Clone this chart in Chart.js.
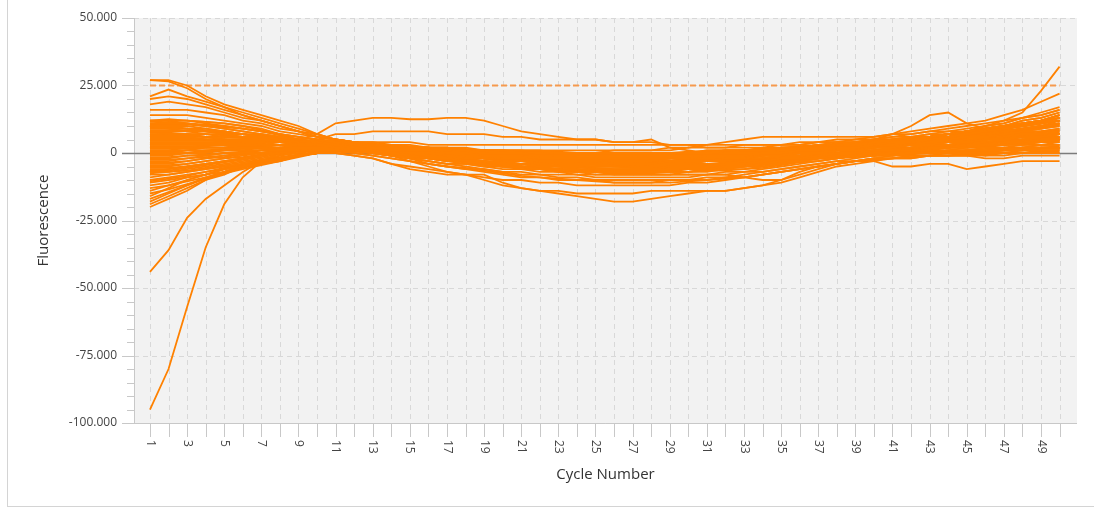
<!DOCTYPE html>
<html lang="en">
<head>
    <meta charset="UTF-8">
    <title>Fluorescence per cycle</title>
    <script src="https://cdn.jsdelivr.net/npm/chart.js"></script>
    <style>
        html, body {
            margin: 0;
            width: 1094px;
            height: 508px;
            overflow: hidden;
            background: #fff;
            font-family: "Open Sans", sans-serif;
        }
        #frame {
            position: absolute;
            left: 7px;
            top: -2px;
            width: 1100px;
            height: 509px;
            border: 1px solid #d4d4d4;
            box-sizing: border-box;
        }
        #wrap {
            position: absolute;
            left: 0;
            top: 0;
            width: 1094px;
            height: 508px;
        }
    </style>
</head>
<body>
    <div id="frame"></div>
    <div id="wrap"><canvas id="chart"></canvas></div>

    <script>
        // cycle numbers and fluorescence per well (values in thousands)
        const cycles = [1,2,3,4,5,6,7,8,9,10,11,12,13,14,15,16,17,18,19,20,21,22,23,24,25,26,27,28,29,30,31,32,33,34,35,36,37,38,39,40,41,42,43,44,45,46,47,48,49,50];
        const thresholdK = 25;
        const yTickValues = [-100000, -75000, -50000, -25000, 0, 25000, 50000];
        const xTickLabels = ['1','3','5','7','9','11','13','15','17','19','21','23','25','27','29','31','33','35','37','39','41','43','45','47','49'];

        const well01 = [27,27,25,21,18,16,14,12,10,7, 5,3,2,2,1,1,0,0,-1,-1, -1,-2,-2,-2,-2,-2,-2,-2,-2,-2, -1,-1,-1,0,0,1,1,2,2,3, 4,4,5,6,7,8,9,10,11,12];
        const well02 = [27,26.5,24,20,17,14,12,10,8,6, 5,4,3,2,2,1,1,0,0,-1, -1,-1,-2,-2,-2,-2,-2,-1,-1,-1, -1,0,0,0,1,1,2,2,3,3, 4,4,5,5,6,6,7,8,8,9];
        const well03 = [21,23.5,21,19,17,15,13,11,9,7, 5,4,3,2,1,0,0,-1,-1,-2, -2,-3,-3,-3,-3,-4,-4,-4,-3,-3, -3,-2,-2,-1,-1,0,0,1,1,2, 2,3,3,4,4,5,5,6,6,7];
        const well04 = [20,21,20,18,16,14,12,10,8,7, 5,4,3,2,2,1,1,1,0,0, 0,-1,-1,-1,-1,-1,-1,-1,-1,0, 0,0,1,1,1,2,2,3,3,4, 4,5,5,6,7,8,9,10,11,12];
        const well05 = [18,19,18,17,15,13,12,10,8,6, 5,4,3,3,2,2,1,1,1,0, 0,0,-1,-1,-1,-1,-1,-1,0,0, 0,1,1,1,2,2,2,3,3,4, 5,5,6,7,8,9,10,11,12,14];
        const well06 = [16,16,16,15,14,12,11,9,8,6, 5,4,3,3,2,2,1,1,0,0, 0,-1,-1,-1,-1,-2,-2,-1,-1,-1, -1,0,0,0,1,1,1,2,2,3, 3,4,5,6,7,8,9,10,11,13];
        const well07 = [14,14,14,13,12,11,10,8,7,6, 5,4,4,3,3,2,2,1,1,1, 0,0,0,0,-1,-1,-1,-1,-1,0, 0,0,0,1,1,1,2,2,2,3, 3,3,4,4,4,5,5,6,6,7];
        const well08 = [12,12,11,10,9,8,7,6,5,7, 11,12,13,13,12.5,12.5,13,13,12,10, 8,7,6,5,5,4,4,5,2,1, 0,0,0,1,1,2,3,4,4,5, 6,7,8,9,10,11,12,13,14,16];
        const well09 = [10,10,10,9,8,7,6,5,4,5, 7,7,8,8,8,8,7,7,7,6, 6,5,5,5,5,4,4,4,3,3, 2,2,2,2,3,3,4,4,5,5, 6,6,7,7,8,8,9,10,11,12];
        const well10 = [12,12,12,11,10,9,8,7,6,5, 4,3,3,2,2,1,1,0,0,-1, -1,-1,-2,-2,-2,-2,-2,-2,-2,-1, -1,-1,0,0,0,1,1,2,2,3, 4,5,6,7,8,9,10,12,13,15];
        const well11 = [11.5,12,12,11.5,11,10,9,7,5,4, 3,2,1,0,-1,-2,-2,-3,-3,-4, -4,-5,-5,-5,-6,-6,-6,-6,-5,-5, -5,-4,-4,-3,-2,-2,-1,0,0,1, 1,2,3,3,4,4,5,6,6,7];
        const well12 = [11,11,11,10,9,8,7,6,5,4, 3,3,2,2,1,1,1,0,0,0, 0,-1,-1,-1,-1,-1,-1,-1,-1,-1, 0,0,0,1,1,1,2,2,3,3, 4,4,5,6,6,7,8,9,10,12];
        const well13 = [10,10,9,9,8,7,7,6,5,4, 3,2,1,0,-1,-2,-3,-3,-4,-5, -5,-6,-6,-7,-7,-7,-7,-7,-7,-6, -6,-5,-5,-4,-3,-2,-2,-1,0,0, 1,1,2,2,3,3,4,4,5,5];
        const well14 = [10,9,9,8,8,7,6,5,4,3, 3,2,2,1,1,0,0,0,-1,-1, -1,-2,-2,-2,-2,-3,-3,-3,-2,-2, -2,-2,-1,-1,0,0,1,1,2,2, 3,3,4,4,5,5,6,7,7,8];
        const well15 = [9,9,8,8,7,7,6,5,4,4, 3,2,2,1,0,0,-1,-1,-2,-2, -3,-3,-4,-4,-4,-4,-5,-4,-4,-4, -3,-3,-2,-2,-1,-1,0,0,1,1, 2,2,3,3,4,4,4,5,5,6];
        const well16 = [8,8,8,7,7,6,6,5,4,3, 3,2,1,1,0,0,-1,-1,-1,-2, -2,-2,-3,-3,-3,-3,-3,-3,-3,-2, -2,-2,-1,-1,0,0,1,1,2,3, 4,5,6,7,8,9,10,11,12,13];
        const well17 = [8,7,7,7,6,6,5,5,4,4, 4,3,3,3,2,2,2,2,1,1, 1,1,0,0,0,0,0,0,0,0, 1,1,1,1,2,2,2,3,3,3, 4,4,4,5,5,5,6,6,7,7];
        const well18 = [7,7,7,6,6,6,5,5,4,4, 3,3,2,2,1,1,0,0,-1,-1, -2,-2,-2,-3,-3,-3,-3,-3,-3,-3, -2,-2,-2,-1,-1,0,0,1,1,2, 2,3,3,4,4,5,5,6,7,8];
        const well19 = [6,6,6,6,5,5,5,4,4,3, 3,2,2,1,1,0,0,-1,-1,-2, -2,-3,-3,-3,-4,-4,-4,-4,-4,-3, -3,-3,-2,-2,-1,-1,0,0,1,1, 2,2,2,3,3,4,4,4,5,5];
        const well20 = [6,6,6,5,5,5,5,4,4,4, 3,3,3,2,2,2,1,1,1,0, 0,0,0,-1,-1,-1,-1,-1,-1,-1, 0,0,0,1,1,1,2,2,3,3, 4,5,6,7,8,9,10,11,12,14];
        const well21 = [5,5,5,5,5,4,4,4,4,3, 3,2,2,1,0,0,-1,-2,-2,-3, -3,-4,-4,-5,-5,-5,-5,-5,-5,-4, -4,-4,-3,-3,-2,-2,-1,-1,0,0, 1,1,2,2,2,3,3,4,4,5];
        const well22 = [4,4,4,4,4,4,4,4,3,3, 3,2,1,1,0,-1,-1,-2,-3,-3, -4,-4,-5,-5,-6,-6,-6,-6,-6,-6, -5,-5,-4,-4,-3,-2,-2,-1,0,0, 1,1,1,2,2,3,3,3,4,4];
        const well23 = [4,4,4,4,4,4,3,3,3,3, 3,3,3,2,2,2,2,1,1,1, 1,0,0,0,0,0,0,0,0,0, 0,1,1,1,2,2,2,3,3,4, 5,6,7,8,9,10,11,13,14,16];
        const well24 = [3,3,3,3,3,3,3,3,3,3, 2,2,1,1,0,0,-1,-1,-2,-2, -2,-3,-3,-3,-3,-4,-4,-3,-3,-3, -3,-2,-2,-2,-1,-1,0,0,1,1, 2,2,3,3,3,4,4,5,5,6];
        const well25 = [2,2,2,3,3,3,3,3,3,3, 2,2,1,0,0,-1,-2,-2,-3,-4, -4,-5,-5,-6,-6,-7,-7,-7,-6,-6, -6,-5,-5,-4,-3,-3,-2,-1,-1,0, 0,1,1,1,2,2,2,3,3,3];
        const well26 = [2,2,2,2,2,3,3,3,3,3, 3,2,2,2,2,1,1,1,1,0, 0,0,0,0,0,0,-1,-1,0,0, 0,0,1,1,1,2,2,2,3,3, 4,5,5,6,7,8,9,10,11,12];
        const well27 = [1,1,1,2,2,2,2,3,3,3, 2,2,1,1,0,0,-1,-1,-2,-2, -3,-3,-3,-4,-4,-4,-4,-4,-4,-4, -3,-3,-3,-2,-2,-1,-1,0,0,0, 1,1,1,2,2,2,3,3,3,4];
        const well28 = [0,0,1,1,1,2,2,2,3,3, 2,2,1,0,-1,-2,-2,-3,-4,-4, -5,-5,-6,-6,-7,-7,-7,-7,-7,-7, -6,-6,-5,-4,-4,-3,-2,-2,-1,-1, 0,0,0,1,1,1,1,2,2,2];
        const well29 = [0,0,0,1,1,1,2,2,2,2, 2,2,2,1,1,1,1,0,0,0, 0,0,-1,-1,-1,-1,-1,-1,-1,-1, 0,0,0,1,1,1,2,2,3,3, 4,5,6,7,8,9,10,12,13,15];
        const well30 = [-1,-1,0,0,1,1,1,2,2,2, 2,1,1,0,0,-1,-1,-2,-2,-3, -3,-3,-4,-4,-4,-4,-4,-4,-4,-3, -3,-3,-2,-2,-1,-1,0,0,1,1, 1,2,2,2,3,3,3,4,4,5];
        const well31 = [-2,-2,-1,-1,0,0,1,1,2,2, 2,1,0,-1,-2,-3,-4,-4,-5,-6, -6,-7,-7,-8,-8,-8,-8,-8,-8,-7, -7,-6,-6,-5,-4,-3,-3,-2,-1,-1, 0,0,0,0,1,1,1,1,2,2];
        const well32 = [-3,-3,-2,-1,0,0,1,1,2,2, 2,2,1,1,0,0,0,-1,-1,-1, -2,-2,-2,-2,-2,-2,-2,-2,-2,-2, -1,-1,-1,0,0,1,1,2,2,2, 3,4,5,6,7,8,9,10,11,13];
        const well33 = [-4,-4,-3,-2,-1,0,0,1,1,2, 2,1,1,0,-1,-2,-2,-3,-3,-4, -4,-5,-5,-5,-5,-5,-5,-5,-5,-5, -4,-4,-3,-3,-2,-2,-1,-1,0,0, 0,1,1,1,1,2,2,2,3,3];
        const well34 = [-5,-5,-4,-3,-2,-1,0,1,1,2, 2,2,2,1,1,1,0,0,0,-1, -1,-1,-1,-2,-2,-2,-2,-2,-1,-1, -1,-1,0,0,1,1,2,2,3,3, 4,5,6,7,8,10,11,13,15,17];
        const well35 = [-6,-6,-5,-4,-3,-2,-1,0,1,1, 1,1,0,-1,-2,-2,-3,-4,-4,-5, -5,-6,-6,-6,-7,-7,-7,-7,-7,-7, -6,-6,-5,-5,-4,-3,-2,-2,-1,-1, -1,0,0,0,0,-1,-1,0,0,0];
        const well36 = [-7,-7,-6,-5,-4,-3,-2,-1,0,1, 1,1,1,1,0,0,0,-1,-1,-1, -2,-2,-2,-2,-3,-3,-3,-2,-2,-2, -2,-1,-1,0,0,0,1,1,2,2, 3,3,3,4,4,5,5,6,6,7];
        const well37 = [-8,-8,-7,-6,-5,-4,-3,-2,-1,0, 1,1,0,0,-1,-2,-3,-3,-4,-5, -5,-6,-7,-7,-8,-8,-8,-8,-8,-8, -8,-7,-7,-6,-5,-4,-3,-2,-1,-1, -1,-1,-1,-1,-1,-2,-2,-1,-1,-1];
        const well38 = [-9,-8,-7,-6,-5,-4,-3,-2,-1,0, 1,1,1,0,0,-1,-1,-2,-2,-3, -3,-4,-4,-4,-4,-5,-5,-5,-4,-4, -4,-4,-3,-3,-2,-2,-1,-1,0,0, 1,1,2,2,3,3,3,4,4,5];
        const well39 = [-10,-9,-8,-7,-6,-5,-3,-2,-1,0, 1,1,0,-1,-2,-4,-5,-6,-7,-8, -9,-9,-10,-10,-10,-11,-11,-11,-10,-10, -10,-9,-9,-8,-7,-6,-5,-4,-3,-2, -2,-1,-1,-1,0,0,0,1,1,1];
        const well40 = [-11,-10,-9,-8,-6,-5,-4,-3,-1,0, 1,1,1,1,0,0,0,-1,-1,-1, -1,-2,-2,-2,-2,-2,-2,-2,-2,-1, -1,-1,0,0,1,1,1,2,2,3, 4,5,6,7,8,9,10,11,12,13];
        const well41 = [-12,-11,-9,-8,-6,-5,-4,-2,-1,0, 1,0,-1,-2,-3,-4,-5,-6,-6,-7, -7,-8,-8,-8,-9,-9,-9,-9,-9,-9, -8,-8,-7,-7,-6,-5,-4,-3,-3,-2, -2,-2,-1,-1,-1,-1,0,0,0,0];
        const well42 = [-14,-12,-10,-8,-7,-5,-4,-3,-1,0, 1,1,1,0,0,-1,-1,-1,-2,-2, -2,-3,-3,-3,-3,-3,-3,-3,-3,-3, -2,-2,-2,-1,-1,0,0,1,1,2, 2,3,3,3,4,4,5,5,6,6];
        const well43 = [-16,-13,-10,-8,-6,-4,-3,-2,-1,0, 1,1,0,-1,-2,-3,-4,-5,-6,-7, -8,-8,-9,-9,-10,-10,-10,-10,-10,-10, -9,-9,-8,-7,-6,-5,-4,-3,-2,-1, -1,0,0,0,1,1,1,2,2,2];
        const well44 = [-18,-15,-12,-9,-7,-5,-3,-2,-1,0, 1,2,2,2,1,1,1,0,0,0, 0,-1,-1,-1,-1,-1,-1,-1,-1,-1, 0,0,0,1,1,1,2,2,3,3, 4,5,6,7,8,9,10,11,12,14];
        const well45 = [-19,-16,-13,-10,-7,-5,-3,-2,-1,0, 1,1,0,-1,-3,-5,-7,-8,-10,-12, -13,-14,-15,-16,-17,-18,-18,-17,-16,-15, -14,-14,-13,-12,-10,-8,-6,-4,-3,-2, -1,0,0,1,1,1,2,2,3,3];
        const well46 = [-20,-17,-14,-10,-8,-5,-4,-2,-1,0, 0,-1,-2,-4,-6,-7,-8,-8,-8,-11, -13,-14,-14,-15,-15,-15,-15,-14,-14,-14, -14,-14,-13,-12,-11,-9,-7,-5,-4,-3, -2,-2,-1,-1,-1,0,0,0,1,1];
        const well47 = [-95,-80,-57,-35,-19,-9,-3,0,2,2, 2,1,1,0,0,-1,-1,-2,-2,-2, -3,-3,-3,-3,-3,-3,-3,-3,-3,-2, -2,-2,-1,-1,0,0,1,1,2,2, 3,3,4,4,5,5,6,6,7,7];
        const well48 = [-44,-36,-24,-17,-12,-7,-3,-1,1,2, 2,2,1,1,0,0,0,-1,-1,-1, -1,-1,-1,-2,-2,-2,-2,-1,-1,-1, -1,0,0,0,1,1,2,2,3,3, 4,4,5,5,6,7,7,8,9,10];
        const well49 = [5,5,5,5,4,4,4,3,3,3, 2,1,0,-1,-2,-3,-4,-4,-5,-5, -6,-6,-7,-7,-7,-8,-8,-8,-8,-8, -8,-8,-9,-10,-10,-7,-5,-4,-3,-3, -5,-5,-4,-4,-6,-5,-4,-3,-3,-3];
        const well50 = [9,9,8,8,7,6,6,5,4,4, 3,3,2,2,1,1,1,0,0,0, 0,0,0,0,0,1,1,1,2,2, 3,4,5,6,6,6,6,6,6,6, 7,7,8,8,8,9,9,10,11,12];
        const well51 = [3,3,3,3,3,3,3,3,2,2, 2,1,1,0,0,0,-1,-1,-1,-2, -2,-2,-2,-2,-2,-2,-2,-1,-1,-1, -1,0,0,1,1,2,3,3,4,5, 7,10,14,15,11,9,10,11,12,14];
        const well52 = [7,7,7,6,6,6,5,5,4,4, 3,3,2,2,2,1,1,1,0,0, 0,0,0,0,0,0,0,0,0,0, 1,1,1,2,2,2,3,3,4,4, 5,5,6,6,8,10,12,15,23,32];
        const well53 = [6,6,6,6,5,5,5,4,4,4, 3,3,3,2,2,2,2,1,1,1, 1,1,1,1,1,1,1,1,1,2, 2,2,3,3,3,4,4,5,5,6, 7,8,9,10,11,12,14,16,19,22];
        const well54 = [1,1,2,2,2,3,3,3,4,4, 4,4,4,4,4,3,3,3,3,3, 3,3,3,3,3,3,3,3,3,3, 3,3,3,3,3,3,4,4,4,5, 5,6,6,7,7,8,8,9,10,11];
        const well55 = [-7,-6,-5,-4,-3,-2,-1,0,1,1, 0,-1,-2,-4,-5,-6,-7,-8,-9,-10, -10,-11,-11,-12,-12,-12,-12,-12,-12,-11, -11,-10,-9,-8,-7,-6,-5,-4,-3,-2, -2,-1,-1,0,0,0,1,1,2,2];
        const well56 = [11,11.5,11,10.5,10,9,8,6.5,5,4, 3.5,3,2.5,2,1.5,1,0.5,0,-0.5,-1, -1.5,-1.5,-2,-2.5,-2.5,-2.5,-2.5,-2,-2,-2, -1.5,-1,-0.5,0,0.5,1,1.5,2,2.5,3, 3.5,4,4.5,5,5.5,6,6.5,7,7.5,8.5];
        const well57 = [9.5,9.5,9,8.5,8,7,6,5,4.5,3.5, 3,2.5,2,1.5,1,0.5,0,-0.5,-1,-1.5, -2,-2.5,-2.5,-3,-3.5,-3.5,-3.5,-3.5,-3,-3, -2.5,-2,-1.5,-1,-0.5,0,0.5,1,1.5,2.5, 3,3.5,4.5,5,6,6.5,7.5,8,9,10.5];
        const well58 = [7.5,7.5,7,7,6.5,6,5.5,5,4.5,4, 3.5,3,2.5,2,1.5,1,0.5,0,-0.5,-1, -1,-1.5,-1.5,-2,-2,-2,-2,-2,-1.5,-1.5, -1,-1,-0.5,0,0.5,1,1.5,2,2.5,3, 3.5,4,4.5,5,5.5,6,6.5,7.5,8,9];
        const well59 = [5.5,5.5,5.5,5,5,4.5,4.5,4,3.5,3.5, 3,2.5,2,1.5,1,0,-0.5,-1,-1.5,-2, -2.5,-3,-3.5,-4,-4.5,-4.5,-4.5,-4.5,-4.5,-4, -4,-3.5,-3,-2.5,-2,-1.5,-1,-0.5,0,0.5, 1,1.5,2,2.5,3,3.5,4,4.5,5,5.5];
        const well60 = [3.5,3.5,3.5,3.5,3.5,3.5,3.5,3,3,3, 2.5,2,1.5,1,0.5,0,-0.5,-1,-1.5,-2.5, -3,-3.5,-4,-4.5,-5,-5,-5.5,-5.5,-5,-5, -4.5,-4.5,-4,-3.5,-3,-2.5,-1.5,-1,-0.5,0, 0.5,1,1.5,2,2,2.5,3,3.5,4,4.5];
        const well61 = [1.5,1.5,1.5,2,2,2.5,2.5,3,3,3, 3,2.5,2.5,2,1.5,1.5,1,1,0.5,0.5, 0,0,-0.5,-0.5,-0.5,-0.5,-0.5,-0.5,-0.5,0, 0,0.5,1,1,1.5,2,2.5,3,3.5,4, 4.5,5,5.5,6,7,7.5,8.5,9,10,11];
        const well62 = [-0.5,-0.5,0,0.5,1,1.5,1.5,2,2,2.5, 2,1.5,1,0.5,-0.5,-1,-1.5,-2.5,-3,-3.5, -4,-4.5,-5,-5.5,-5.5,-6,-6,-6,-5.5,-5.5, -5,-4.5,-4,-3.5,-3,-2.5,-2,-1.5,-1,-0.5, 0,0.5,0.5,1,1,1.5,1.5,2,2,2.5];
        const well63 = [-2.5,-2.5,-2,-1.5,-1,-0.5,0,0.5,1,1.5, 1.5,1.5,1,1,0.5,0,-0.5,-1,-1.5,-2, -2.5,-2.5,-3,-3,-3,-3,-3,-3,-3,-2.5, -2.5,-2,-1.5,-1,-0.5,0,0.5,1,1.5,2, 2.5,3,3.5,4,4.5,5,5.5,6,6.5,7];
        const well64 = [-4.5,-4.5,-4,-3,-2,-1.5,-0.5,0.5,1,1.5, 1.5,1,0.5,0,-0.5,-1.5,-2,-3,-3.5,-4.5, -5,-5.5,-6,-6.5,-6.5,-6.5,-6.5,-6.5,-6.5,-6, -6,-5.5,-5,-4.5,-3.5,-3,-2,-1.5,-1,-0.5, 0,0,0.5,0.5,1,1,1.5,1.5,2,2];
        const well65 = [-6.5,-6.5,-5.5,-4.5,-3.5,-2.5,-1.5,-0.5,0.5,1, 1.5,1.5,1.5,1,1,0.5,0.5,0,0,-0.5, -0.5,-1,-1,-1,-1,-1,-1,-1,-0.5,-0.5, 0,0,0.5,1,1.5,2,2.5,3,3.5,4, 4.5,5,5.5,6,6.5,7.5,8,9,10,11];
        const well66 = [-7.5,-7,-6.5,-5.5,-4.5,-3.5,-2.5,-1.5,-0.5,0.5, 1,0.5,0,-0.5,-1.5,-2,-3,-3.5,-4.5,-5, -5.5,-6,-6.5,-7,-7,-7.5,-7.5,-7.5,-7,-7, -6.5,-6.5,-6,-5.5,-4.5,-3.5,-3,-2,-1.5,-1, -0.5,-0.5,0,0,0.5,0.5,1,1,1.5,1.5];
        const well67 = [-10.5,-9.5,-8.5,-7,-5.5,-4.5,-3.5,-2.5,-1,0, 1,1,0.5,0,-0.5,-1.5,-2,-2.5,-3,-3.5, -4,-4.5,-4.5,-5,-5,-5,-5,-5,-5,-4.5, -4.5,-4,-3.5,-3,-2.5,-2,-1.5,-1,-0.5,0, 0.5,1,1.5,2,2.5,3,3.5,4,4.5,5];
        const well68 = [-13,-12,-10.5,-9,-7.5,-6,-4.5,-3,-1.5,0, 1,1.5,1.5,1,1,0.5,0,0,-0.5,-0.5, -1,-1,-1.5,-1.5,-1.5,-1.5,-1.5,-1.5,-1.5,-1, -1,-0.5,0,0.5,1,1.5,2,2.5,3,3.5, 4,4.5,5,5.5,6,6.5,7,7.5,8,8.5];
        const well69 = [-15,-13.5,-11.5,-9.5,-7.5,-5.5,-4,-2.5,-1,0, 0.5,0,-1,-2,-3,-4,-5,-5.5,-6.5,-7.5, -8.5,-9,-9.5,-10,-10.5,-11,-11,-11,-11,-10.5, -10,-9.5,-9,-8,-7,-6,-5,-4,-3,-2.5, -2,-1.5,-1,-1,-0.5,-0.5,0,0,0.5,0.5];
        const well70 = [-17,-14.5,-12,-9.5,-7,-5,-3.5,-2,-1,0.5, 1.5,1.5,1.5,1,0.5,0,-0.5,-1,-1,-1.5, -2,-2,-2,-2.5,-2.5,-2.5,-2.5,-2.5,-2,-2, -1.5,-1.5,-1,-0.5,0,0.5,1,1.5,2,2.5, 3,3.5,4,4.5,5,5.5,6,6.5,7,7.5];
        const well71 = [12,12.5,12,11.5,11,10,8.5,7,6,5, 4,3,2,1.5,0.5,0,-0.5,-1,-1.5,-2, -2.5,-3,-3.5,-3.5,-4,-4,-4,-4,-3.5,-3.5, -3,-3,-2.5,-2,-1.5,-1,-0.5,0,0.5,1, 1.5,2,2.5,3,3.5,4,4.5,5,5.5,6];
        const well72 = [10.5,10.5,10.5,10,9.5,9,8,7,6,5, 4.5,4,3.5,3,2.5,2,1.5,1.5,1,1, 0.5,0.5,0.5,0,0,0,0,0,0,0.5, 0.5,1,1,1.5,2,2.5,3,3.5,4,4.5, 5,5.5,6,7,7.5,8.5,9.5,10.5,11.5,13];
        const well73 = [8.5,8.5,8.5,8,7.5,7,6.5,5.5,5,4.5, 4,3.5,3,2.5,2,1.5,1,0.5,0,-0.5, -0.5,-1,-1,-1.5,-1.5,-1.5,-1.5,-1.5,-1.5,-1, -1,-0.5,0,0,0.5,1,1.5,2,2.5,3, 3.5,4,4.5,5.5,6,6.5,7.5,8,9,10];
        const well74 = [6.5,6.5,6.5,6,6,5.5,5,4.5,4,4, 3.5,3,2.5,2,1.5,1,0.5,0,-0.5,-1, -1.5,-1.5,-2,-2,-2.5,-2.5,-2.5,-2.5,-2,-2, -2,-1.5,-1,-1,-0.5,0,0.5,1,1.5,2, 2.5,3,3.5,4,4.5,5,5.5,6,6.5,7];
        const well75 = [4.5,4.5,4.5,4.5,4.5,4.5,4,4,3.5,3.5, 3,3,2.5,2,2,1.5,1,1,0.5,0, 0,-0.5,-0.5,-0.5,-1,-1,-1,-1,-1,-0.5, -0.5,0,0,0.5,1,1.5,2,2.5,3,3.5, 4,4.5,5,6,6.5,7.5,8,9,10,11];
        const well76 = [2.5,2.5,2.5,2.5,3,3,3,3,3,3, 2.5,2,1.5,1,0.5,0,-0.5,-1,-1.5,-2, -2.5,-3,-3,-3.5,-3.5,-3.5,-3.5,-3.5,-3.5,-3, -3,-2.5,-2,-2,-1.5,-1,-0.5,0,0.5,1, 1,1.5,2,2,2.5,3,3,3.5,4,4];
        const well77 = [0.5,0.5,1,1,1.5,1.5,2,2,2.5,2.5, 2.5,2,1.5,1,0.5,0,-0.5,-1,-1.5,-2, -2,-2.5,-2.5,-3,-3,-3,-3,-3,-3,-2.5, -2.5,-2,-1.5,-1,-0.5,0,0.5,1,1.5,2, 2.5,3,3.5,4,4.5,5,5.5,6,6.5,7];
        const well78 = [-1.5,-1.5,-1,-0.5,0,0.5,1,1.5,2,2, 2,2,1.5,1.5,1,1,0.5,0.5,0,0, -0.5,-0.5,-0.5,-1,-1,-1,-1,-1,-1,-0.5, -0.5,0,0,0.5,1,1.5,2,2.5,3,3.5, 4,4.5,5,5.5,6.5,7,8,8.5,9.5,10.5];
        const well79 = [-3.5,-3.5,-3,-2,-1.5,-0.5,0,1,1.5,2, 2,1.5,1,0,-0.5,-1.5,-2.5,-3,-3.5,-4.5, -5,-5.5,-6,-6,-6.5,-6.5,-6.5,-6.5,-6,-6, -5.5,-5,-4.5,-4,-3.5,-2.5,-2,-1.5,-1,-0.5, -0.5,0,0,0.5,0.5,1,1,1,1.5,1.5];
        const well80 = [-5.5,-5.5,-5,-4,-3,-2,-1,0,0.5,1.5, 1.5,1.5,1,0.5,0,-0.5,-1,-1.5,-2,-2.5, -3,-3,-3.5,-3.5,-4,-4,-4,-4,-3.5,-3.5, -3,-3,-2.5,-2,-1.5,-1,-0.5,0,0.5,1, 1.5,2,2.5,3,3.5,4,4.5,5,5.5,6];

        const wells = [well01, well02, well03, well04, well05, well06, well07, well08, well09, well10,
            well11, well12, well13, well14, well15, well16, well17, well18, well19, well20,
            well21, well22, well23, well24, well25, well26, well27, well28, well29, well30,
            well31, well32, well33, well34, well35, well36, well37, well38, well39, well40,
            well41, well42, well43, well44, well45, well46, well47, well48, well49, well50,
            well51, well52, well53, well54, well55, well56, well57, well58, well59, well60,
            well61, well62, well63, well64, well65, well66, well67, well68, well69, well70,
            well71, well72, well73, well74, well75, well76, well77, well78, well79, well80];

        function formatThousands(v) {
            const s = String(Math.abs(v)).replace(/\B(?=(\d{3})+(?!\d))/g, '.');
            return (v < 0 ? '-' : '') + s;
        }

        // background, dashed grid, tick marks, zero line and rotated cycle labels
        const plotDecor = {
            id: 'plotDecor',
            beforeDatasetsDraw(chart) {
                const { ctx, chartArea: a, scales: { x, y } } = chart;
                const seg = (x1, y1, x2, y2) => { ctx.beginPath(); ctx.moveTo(x1, y1); ctx.lineTo(x2, y2); ctx.stroke(); };
                ctx.save();
                ctx.fillStyle = '#f2f2f2';
                ctx.fillRect(a.left, a.top, a.right - a.left, a.bottom - a.top);

                ctx.lineWidth = 1;
                ctx.strokeStyle = '#d8d8d8';
                ctx.setLineDash([5, 4]);
                cycles.forEach(c => {
                    const px = Math.round(x.getPixelForValue(c)) + 0.5;
                    seg(px, a.top, px, a.bottom);
                });
                yTickValues.forEach(v => {
                    if (v === 0) return;
                    const py = Math.round(y.getPixelForValue(v)) + 0.5;
                    seg(a.left, py, a.right, py);
                });
                ctx.setLineDash([]);

                ctx.strokeStyle = '#c8c8c8';
                seg(a.left + 0.5, a.top, a.left + 0.5, a.bottom + 1);
                seg(a.left, a.bottom + 0.5, a.right, a.bottom + 0.5);
                for (let v = -100000; v <= 50000; v += 5000) {
                    const py = Math.round(y.getPixelForValue(v)) + 0.5;
                    seg(a.left - (v % 25000 === 0 ? 12 : 7), py, a.left, py);
                }
                cycles.forEach(c => {
                    const px = Math.round(x.getPixelForValue(c)) + 0.5;
                    seg(px, a.bottom, px, a.bottom + 14);
                });

                ctx.strokeStyle = '#7c7c7c';
                ctx.lineWidth = 1.5;
                const y0 = Math.round(y.getPixelForValue(0)) + 0.5;
                seg(a.left - 12, y0, a.right, y0);

                ctx.fillStyle = '#444';
                ctx.font = '12px "Open Sans"';
                ctx.textAlign = 'left';
                ctx.textBaseline = 'middle';
                xTickLabels.forEach(lbl => {
                    const px = x.getPixelForValue(Number(lbl));
                    ctx.save();
                    ctx.translate(px, a.bottom + 17);
                    ctx.rotate(Math.PI / 2);
                    ctx.fillText(lbl, 0, 0);
                    ctx.restore();
                });
                ctx.restore();
            }
        };

        const datasets = wells.map(w => ({
            data: w.map((v, i) => ({ x: cycles[i], y: v * 1000 })),
            borderColor: '#ff8100',
            borderWidth: 1.8,
            pointRadius: 0,
            tension: 0,
            fill: false
        }));
        datasets.push({
            data: cycles.map(c => ({ x: c, y: thresholdK * 1000 })),
            borderColor: 'rgba(247, 150, 70, 0.95)',
            borderWidth: 2,
            borderDash: [6, 3],
            pointRadius: 0,
            fill: false
        });

        new Chart(document.getElementById('chart'), {
            type: 'line',
            data: { datasets: datasets },
            options: {
                responsive: true,
                maintainAspectRatio: false,
                animation: false,
                layout: { padding: { top: 18, right: 17, bottom: 0, left: 0 } },
                plugins: {
                    legend: { display: false },
                    tooltip: { enabled: false }
                },
                scales: {
                    x: {
                        type: 'linear',
                        min: 0.14,
                        max: 50.94,
                        ticks: { display: false },
                        grid: { display: false },
                        border: { display: false },
                        title: {
                            display: true,
                            text: 'Cycle Number',
                            color: '#333',
                            font: { family: 'Open Sans', size: 15 },
                            padding: { top: 0, bottom: 24 }
                        },
                        afterFit: s => { s.height = 85; }
                    },
                    y: {
                        min: -100000,
                        max: 50000,
                        ticks: {
                            stepSize: 25000,
                            padding: 5,
                            color: '#444',
                            font: { family: 'Open Sans', size: 12 },
                            callback: v => formatThousands(v)
                        },
                        grid: { color: 'transparent', tickLength: 12, drawTicks: true },
                        border: { display: false },
                        title: {
                            display: true,
                            text: 'Fluorescence',
                            color: '#333',
                            font: { family: 'Open Sans', size: 15 },
                            padding: { top: 35, bottom: 0 }
                        },
                        afterFit: s => { s.width = 134; }
                    }
                }
            },
            plugins: [plotDecor]
        });
    </script>
</body>
</html>
